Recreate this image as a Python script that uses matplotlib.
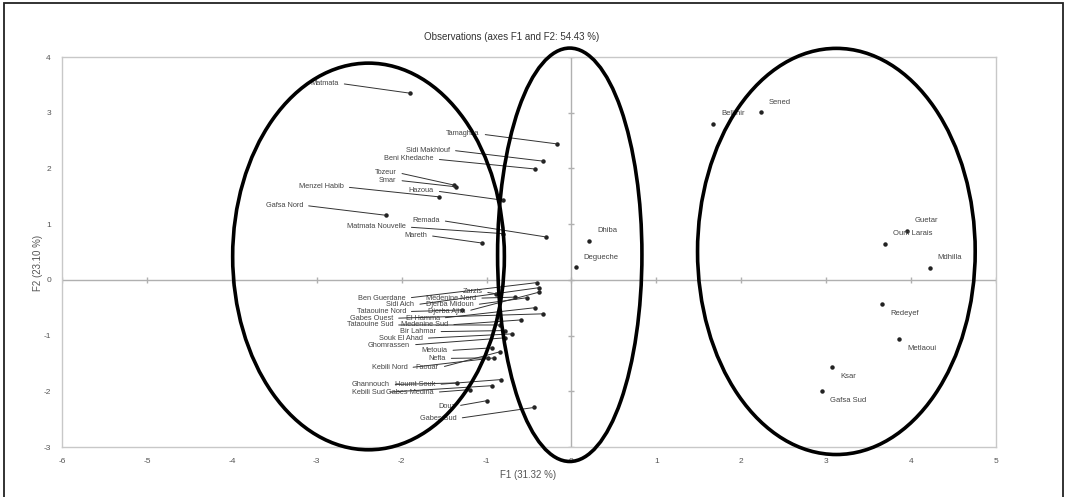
import matplotlib
matplotlib.use("Agg")
import matplotlib.pyplot as plt
from matplotlib.patches import Ellipse, Rectangle

plt.rcParams['font.family'] = ['Liberation Sans Narrow', 'Liberation Sans', 'DejaVu Sans']
plt.rcParams['axes.unicode_minus'] = False

# Points with plain labels (right cluster + middle), label above (1) or below (-1)
plain_names = ["Sened", "Belkhir", "Guetar", "Oum Larais", "Mdhilla", "Redeyef",
               "Metlaoui", "Ksar", "Gafsa Sud", "Dhiba", "Degueche"]
plain_x = [2.23, 1.67, 3.95, 3.69, 4.22, 3.66, 3.86, 3.07, 2.95, 0.21, 0.05]
plain_y = [3.01, 2.80, 0.88, 0.65, 0.22, -0.43, -1.06, -1.56, -1.99, 0.70, 0.23]
plain_side = [1, 1, 1, 1, 1, -1, -1, -1, -1, 1, 1]

# Points with leader lines (left cluster): point coords and label anchor coords
lead_names = ["Matmata", "Tamaghza", "Sidi Makhlouf", "Beni Khedache", "Tozeur", "Smar",
              "Menzel Habib", "Hazoua", "Gafsa Nord", "Remada", "Matmata Nouvelle", "Mareth",
              "Zarzis", "Medenine Nord", "Djerba Midoun", "Djerba Ajim", "Sidi Aich",
              "Ben Guerdane", "Tataouine Nord", "El Hamma", "Gabes Ouest", "Medenine Sud",
              "Tataouine Sud", "Bir Lahmar", "Souk El Ahad", "Ghomrassen", "Metouia",
              "Nefta", "Kebili Nord", "Faouar", "Ghannouch", "Houmt Souk", "Kebili Sud",
              "Gabes Medina", "Douz", "Gabes Sud"]
lead_x = [-1.90, -0.17, -0.33, -0.43, -1.38, -1.36, -1.56, -0.81, -2.19, -0.30, -0.81, -1.05,
          -0.89, -0.67, -0.52, -0.38, -0.38, -0.41, -1.29, -0.43, -0.34, -0.60, -0.84, -0.78,
          -0.70, -0.78, -0.93, -0.98, -0.91, -0.84, -1.35, -0.83, -0.94, -1.20, -1.00, -0.44]
lead_y = [3.35, 2.44, 2.13, 1.99, 1.70, 1.67, 1.49, 1.43, 1.16, 0.77, 0.83, 0.66,
          -0.25, -0.31, -0.32, -0.22, -0.14, -0.05, -0.54, -0.50, -0.61, -0.72, -0.81, -0.91,
          -0.97, -1.04, -1.22, -1.40, -1.40, -1.29, -1.85, -1.79, -1.90, -1.97, -2.17, -2.29]
label_x = [-2.74, -1.08, -1.43, -1.62, -2.06, -2.06, -2.68, -1.62, -3.16, -1.55, -1.95, -1.70,
           -1.05, -1.12, -1.15, -1.25, -1.85, -1.95, -1.95, -1.55, -2.10, -1.45, -2.10, -1.60,
           -1.75, -1.90, -1.46, -1.48, -1.93, -1.56, -2.14, -1.60, -2.20, -1.62, -1.37, -1.35]
label_y = [3.53, 2.62, 2.33, 2.17, 1.93, 1.79, 1.67, 1.60, 1.34, 1.07, 0.95, 0.80,
           -0.21, -0.33, -0.45, -0.57, -0.45, -0.33, -0.57, -0.69, -0.69, -0.81, -0.81, -0.93,
           -1.05, -1.17, -1.27, -1.41, -1.58, -1.58, -1.88, -1.88, -2.02, -2.02, -2.27, -2.49]

# Hand-drawn group ellipses: (center x, center y, width, height)
ellipses = [(-2.39, 0.42, 3.20, 6.94), (-0.02, 0.45, 1.70, 7.42), (3.12, 0.51, 3.27, 7.29)]

x_ticks = list(range(-6, 6))
y_ticks = list(range(-3, 5))

fig = plt.figure(figsize=(10.66, 4.97), dpi=100)
ax = fig.add_axes([62 / 1066, 1 - 447 / 497, 934 / 1066, 390 / 497])
ax.set_xlim(-6, 5)
ax.set_ylim(-3, 4)

for s in ax.spines.values():
    s.set_color('#c8c8c8')
    s.set_linewidth(1)
ax.set_xticks(x_ticks)
ax.set_yticks(y_ticks)
ax.tick_params(length=0, labelsize=6, colors='#555555', pad=8)

# zero axes with small tick marks (Excel style)
ax.axhline(0, color='#b0b0b0', lw=1, zorder=1)
ax.axvline(0, color='#b0b0b0', lw=1, zorder=1)
ax.plot(x_ticks, [0] * len(x_ticks), ls='none', marker='|', ms=4, color='#b0b0b0', zorder=1)
ax.plot([0] * len(y_ticks), y_ticks, ls='none', marker='_', ms=4, color='#b0b0b0', zorder=1)

ax.plot(plain_x, plain_y, 'o', ms=2.2, color='#222222', zorder=3)
ax.plot(lead_x, lead_y, 'o', ms=2.2, color='#222222', zorder=3)

for n, x, y, side in zip(plain_names, plain_x, plain_y, plain_side):
    ax.annotate(n, (x, y), xytext=(8, 10 * side), textcoords='offset pixels',
                ha='left', va='center', fontsize=5.5, color='#444444')

for n, x, y, lx, ly in zip(lead_names, lead_x, lead_y, label_x, label_y):
    ax.annotate(n, (x, y), xytext=(lx, ly), textcoords='data',
                ha='right', va='center', fontsize=5.3, color='#444444',
                arrowprops=dict(arrowstyle='-', color='#333333', lw=0.7,
                                shrinkA=2, shrinkB=0, relpos=(1, 0.5)))

for cx, cy, w, h in ellipses:
    ax.add_patch(Ellipse((cx, cy), w, h, fill=False, ec='black', lw=2.6,
                         clip_on=False, zorder=5))

fig.text(512 / 1066, 1 - 37 / 497, "Observations (axes F1 and F2: 54.43 %)",
         ha='center', va='center', fontsize=7, color='#333333')
fig.text(528 / 1066, 1 - 475 / 497, "F1 (31.32 %)", ha='center', va='center',
         fontsize=7, color='#555555')
fig.text(38 / 1066, 1 - 263 / 497, "F2 (23.10 %)", ha='center', va='center',
         rotation=90, fontsize=7, color='#555555')

# outer frame (open at the bottom)
fig.add_artist(Rectangle((4 / 1066, -0.05), 1059 / 1066, 1.05 - 3 / 497,
                         transform=fig.transFigure, fill=False, ec='#222222', lw=1.3))

fig.savefig("out.png", dpi=100)
